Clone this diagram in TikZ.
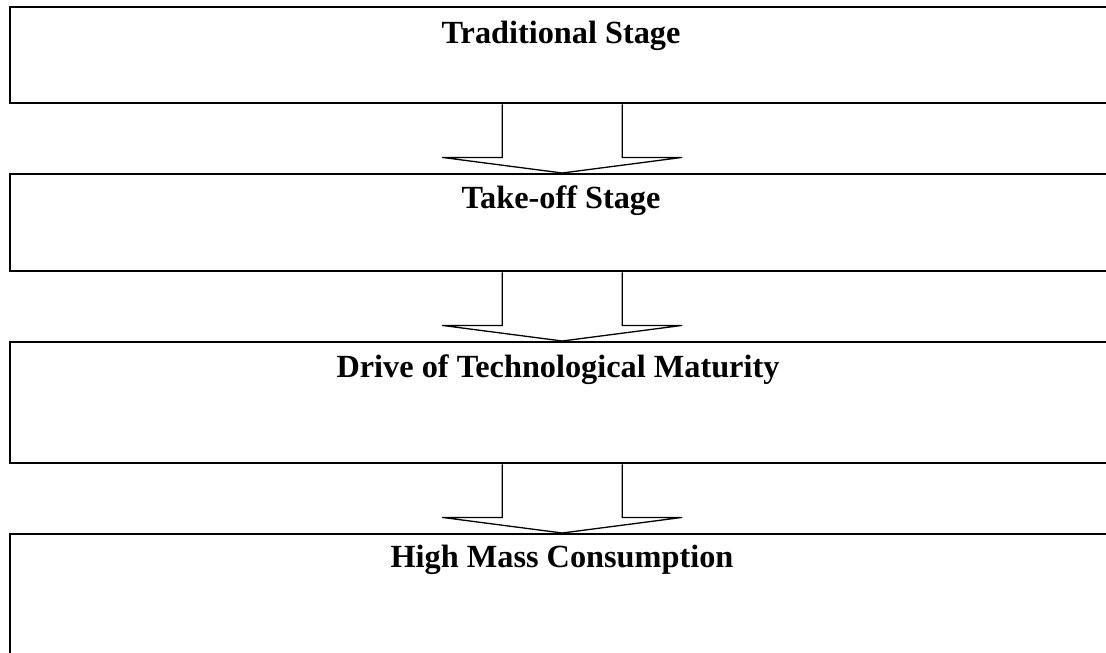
\documentclass[tikz,border=0pt]{standalone}
\usepackage{fontspec}
\setmainfont{Liberation Serif}
\usetikzlibrary{calc}
\begin{document}
\begin{tikzpicture}[x=1pt,y=-1pt,
  stagebox/.style={draw=black, line width=2.4pt, rectangle, minimum width=1104pt, anchor=north west, inner sep=0pt},
  stagetext/.style={anchor=base, font=\fontsize{32.3}{37}\selectfont\bfseries, inner sep=0pt},
  blockarr/.style={draw=black, line width=1.3pt, line join=miter}]
\useasboundingbox (0,0) rectangle (1106,653);
\node[stagebox, minimum height=96.5pt] (b1) at (9,5.5) {};
\node[stagebox, minimum height=97pt] (b2) at (9,173) {};
\node[stagebox, minimum height=121pt] (b3) at (9,341) {};
\node[stagebox, minimum height=130pt] (b4) at (9,533) {};
\node[stagetext] (t1) at (561,43.5) {Traditional Stage};
\node[stagetext] (t2) at (561,208.5) {Take-off Stage};
\node[stagetext] (t3) at (558,377.5) {Drive of Technological Maturity};
\node[stagetext] (t4) at (562,567.5) {High Mass Consumption};
\draw[blockarr] ($(b1.south)+(-60,0)$) -- ++(0,53) -- ++(-60,0) -- (b2.north) -- ($(b1.south)+(120,53)$) -- ++(-60,0) -- ++(0,-53);
\draw[blockarr] ($(b2.south)+(-60,0)$) -- ++(0,53) -- ++(-60,0) -- (b3.north) -- ($(b2.south)+(120,53)$) -- ++(-60,0) -- ++(0,-53);
\draw[blockarr] ($(b3.south)+(-60,0)$) -- ++(0,53) -- ++(-60,0) -- (b4.north) -- ($(b3.south)+(120,53)$) -- ++(-60,0) -- ++(0,-53);
\end{tikzpicture}
\end{document}
